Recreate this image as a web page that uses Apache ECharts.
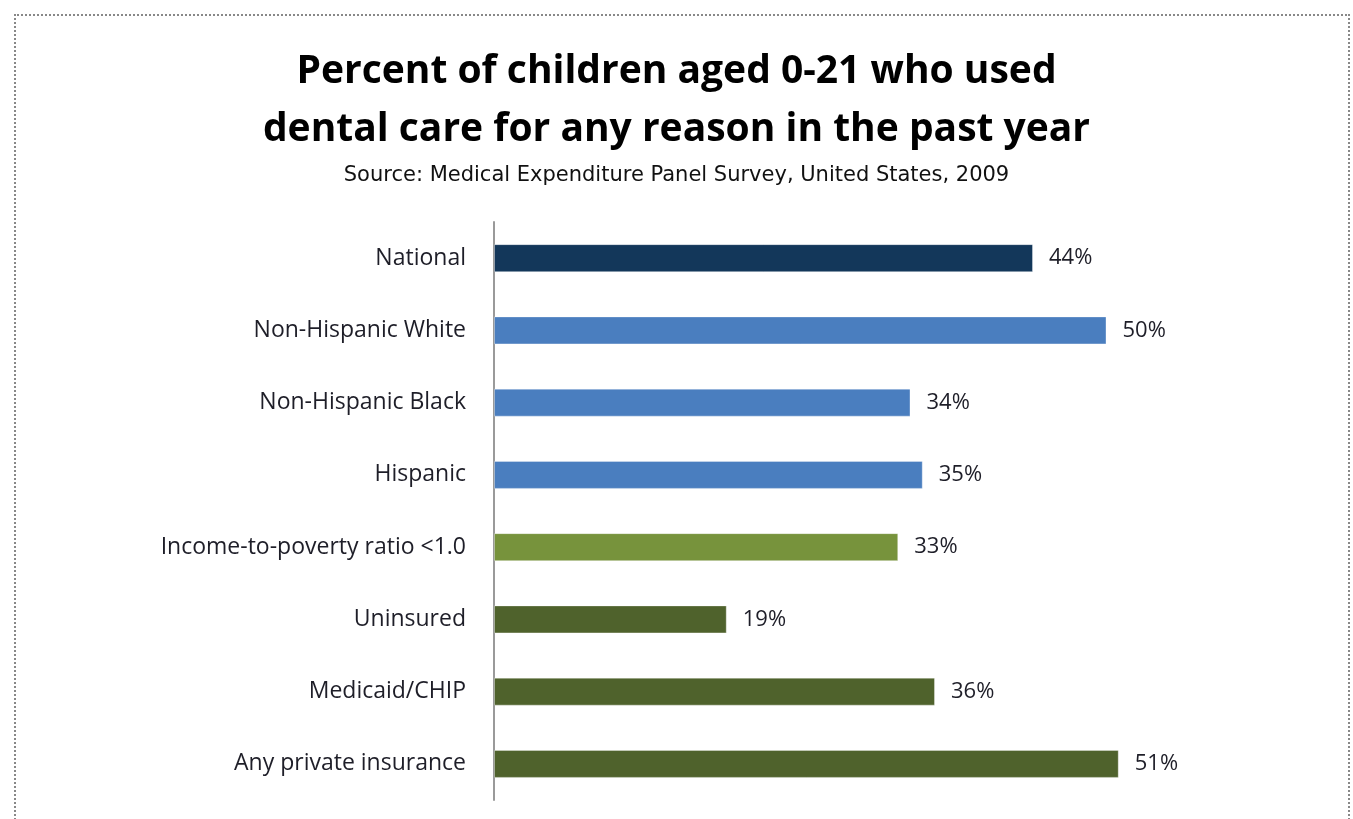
<!DOCTYPE html>
<html>
<head>
<meta charset="utf-8">
<style>
  html, body { margin: 0; padding: 0; background: #fff; }
  #frame {
    position: absolute; left: 14px; top: 14px; width: 1332px; height: 820px;
    border-top: 2px dotted #888; border-left: 2px dotted #888; border-right: 2px dotted #888;
  }
  #chart { position: absolute; left: 0; top: 0; width: 1353px; height: 819px; }
</style>
<script src="https://cdn.jsdelivr.net/npm/echarts@6/dist/echarts.min.js"></script>
</head>
<body>
<div id="frame"></div>
<div id="chart"></div>
<script>
// data
var categories = [
  'National',
  'Non-Hispanic White',
  'Non-Hispanic Black',
  'Hispanic',
  'Income-to-poverty ratio <1.0',
  'Uninsured',
  'Medicaid/CHIP',
  'Any private insurance'
]
var values = [44, 50, 34, 35, 33, 19, 36, 51]
var barColors = ['#13375a', '#4a7ebf', '#4a7ebf', '#4a7ebf', '#77933c', '#4f622c', '#4f622c', '#4f622c']

var chart = echarts.init(document.getElementById('chart'))

chart.setOption({
  animation: false,
  title: [
    {
      text: 'Percent of children aged 0-21 who used',
      left: 'center',
      top: 47,
      textStyle: { fontFamily: 'Open Sans', fontWeight: 'bold', fontSize: 39, color: '#000' }
    },
    {
      text: 'dental care for any reason in the past year',
      left: 'center',
      top: 105,
      textStyle: { fontFamily: 'Open Sans', fontWeight: 'bold', fontSize: 39, color: '#000' }
    },
    {
      text: 'Source: Medical Expenditure Panel Survey, United States, 2009',
      left: 'center',
      top: 160,
      textStyle: { fontFamily: 'DejaVu Sans', fontWeight: 'normal', fontSize: 21, color: '#111' }
    }
  ],
  grid: {
    left: 494,
    top: 222,
    width: 735,
    height: 578
  },
  xAxis: {
    type: 'value',
    min: 0,
    max: 60,
    show: false
  },
  yAxis: {
    type: 'category',
    inverse: true,
    data: categories,
    axisLine: { show: true, lineStyle: { color: '#9a9a9a', width: 2 } },
    axisTick: { show: false },
    axisLabel: {
      margin: 28,
      fontFamily: 'Open Sans',
      fontSize: 23,
      color: '#1e1e28'
    }
  },
  series: [
    {
      type: 'bar',
      barWidth: 28,
      data: values.map(function (v, i) {
        return { value: v, itemStyle: { color: barColors[i] } }
      }),
      itemStyle: { borderColor: 'rgba(255,255,255,0.35)', borderWidth: 1 },
      label: {
        show: true,
        position: 'right',
        distance: 16,
        formatter: '{c}%',
        fontFamily: 'Open Sans',
        fontSize: 22,
        color: '#1e1e28'
      }
    }
  ]
})
</script>
</body>
</html>
